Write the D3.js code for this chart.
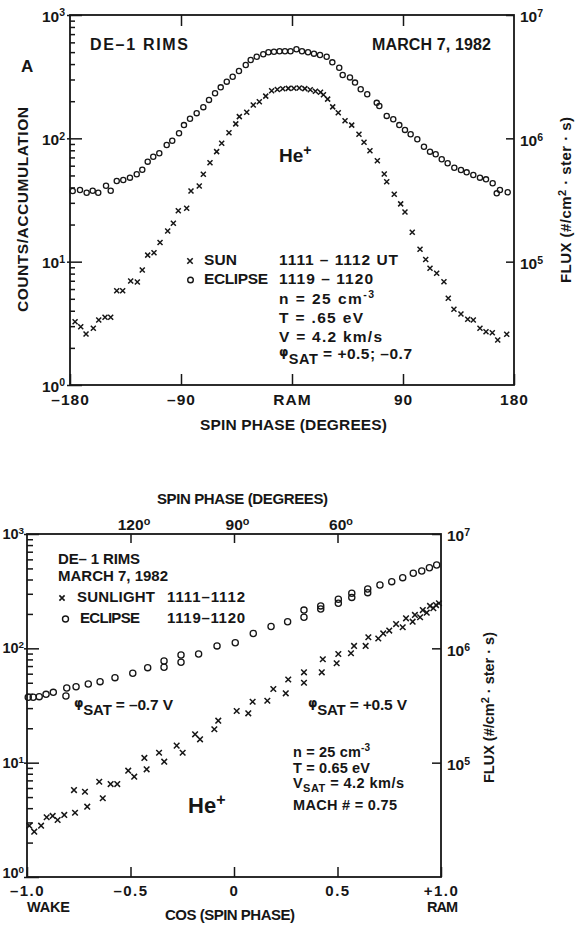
<!DOCTYPE html>
<html>
<head>
<meta charset="utf-8">
<script src="https://cdn.jsdelivr.net/npm/d3@7/dist/d3.min.js"></script>
<style>
  html, body { margin: 0; padding: 0; background: #fff; }
  svg { display: block; }
</style>
</head>
<body>
<svg id="chart" width="586" height="926"></svg>
<script>
// ---------- Panel A: He+ counts versus spin phase (degrees) ----------
const phaseTicks = [-180, -90, 0, 90, 180];
const phaseTickLabels = ["–180", "–90", "RAM", "90", "180"];

// sunlit interval 1111–1112 UT (x)
const sunPhase = [-175.9, -171.3, -167.0, -161.1, -156.7, -151.6, -147.0, -142.1, -137.3, -130.8,
  -125.4, -121.4, -117.0, -111.9, -107.0, -100.8, -96.2, -92.2, -85.4, -81.9,
  -75.2, -71.9, -66.5, -61.1, -57.0, -51.1, -45.6, -42.7, -36.7, -31.4,
  -26.5, -21.3, -16.5, -11.9, -7.5, -3.0, 1.5, 5.9, 10.4, 14.8,
  19.0, 23.1, 25.5, 28.9, 33.0, 37.5, 43.0, 48.4, 54.3, 58.4,
  63.2, 69.2, 74.8, 76.8, 82.9, 88.1, 91.6, 97.5, 103.8, 108.4,
  111.9, 117.3, 123.2, 126.7, 131.3, 137.0, 142.5, 147.0, 152.4, 157.3,
  162.4, 166.8, 174.1];
const sunCounts = [3.26, 2.97, 2.59, 2.88, 3.37, 3.54, 3.54, 5.82, 5.82, 6.97,
  6.84, 8.55, 11.3, 11.8, 14.3, 17.7, 20.5, 25.9, 27.1, 37.4,
  41.1, 51.1, 63.4, 78.0, 91.2, 111, 131, 150, 163, 186,
  198, 220, 243, 249, 252, 254, 255, 256, 253, 248,
  241, 236, 226, 208, 180, 161, 139, 128, 108, 92.9,
  79.4, 65.9, 51.4, 44.5, 35.2, 29.4, 25.3, 17.3, 12.6, 10.4,
  8.83, 8.05, 6.88, 5.05, 4.11, 3.77, 3.41, 3.37, 2.88, 2.70,
  2.65, 2.32, 2.58];

// eclipse interval 1119–1120 UT (o)
const eclipsePhase = [-177.8, -171.9, -166.5, -161.6, -157.1, -150.8, -147.0, -142.1, -136.8, -131.4,
  -125.9, -121.4, -117.0, -112.5, -107.6, -101.6, -97.1, -91.6, -87.6, -82.7,
  -77.3, -71.9, -67.3, -62.4, -57.8, -52.9, -48.1, -43.0, -37.5, -33.5,
  -28.6, -23.3, -19.1, -14.6, -10.1, -5.7, -1.2, 3.6, 8.1, 13.0,
  17.8, 22.7, 28.1, 32.7, 38.3, 41.1, 47.0, 51.1, 55.7, 61.0,
  68.7, 70.8, 76.8, 82.1, 87.0, 91.6, 96.2, 101.6, 107.0, 111.9,
  116.5, 121.4, 126.2, 131.6, 137.0, 141.6, 147.0, 152.4, 157.3, 162.7,
  166.0, 168.6, 174.9];
const eclipseCounts = [37.4, 38.1, 36.2, 37.6, 36.2, 41.3, 37.6, 45.1, 45.9, 48.0,
  51.1, 55.7, 64.7, 71.0, 75.7, 88.3, 95.7, 110, 128, 144,
  160, 179, 205, 232, 259, 288, 316, 352, 393, 432,
  459, 480, 499, 504, 508, 508, 508, 527, 508, 499,
  486, 474, 459, 413, 374, 326, 312, 283, 250, 228,
  194, 183, 152, 143, 128, 117, 108, 98.2, 85.5, 78.0,
  74.2, 67.6, 62.8, 57.8, 55.4, 53.0, 50.4, 48.0, 46.5, 43.2,
  35.8, 38.1, 36.5];

// ---------- Lower panel: the same counts versus cos(spin phase) ----------
const cosTicks = [-1, -0.5, 0, 0.5, 1];
const cosTickLabels = ["–1.0", "–0.5", "0", "0.5", "+1.0"];
const degreeTicks = [120, 90, 60];

const sunCos = [-0.989, -0.965, -0.932, -0.905, -0.876, -0.852, -0.820, -0.768, -0.773, -0.720,
  -0.709, -0.651, -0.634, -0.596, -0.564, -0.511, -0.482, -0.433, -0.422, -0.362,
  -0.337, -0.277, -0.248, -0.188, -0.164, -0.095, -0.076, 0.013, 0.069, 0.090,
  0.161, 0.190, 0.250, 0.262, 0.338, 0.338, 0.424, 0.429, 0.496, 0.504,
  0.565, 0.580, 0.636, 0.649, 0.697, 0.721, 0.750, 0.783, 0.815, 0.831,
  0.863, 0.874, 0.899, 0.912, 0.931, 0.947, 0.963, 0.976, 0.990];
const sunCosCounts = [2.81, 2.49, 2.81, 3.33, 3.42, 3.15, 3.49, 3.65, 5.76, 5.57,
  4.12, 6.81, 4.88, 6.50, 6.50, 8.51, 7.54, 11.0, 8.74, 12.2,
  10.2, 14.1, 12.2, 17.7, 16.0, 19.6, 23.3, 28.3, 27.0, 34.1,
  34.8, 44.1, 40.4, 53.4, 50.0, 61.7, 61.7, 80.2, 74.0, 89.2,
  90.5, 105, 105, 125, 122, 135, 143, 163, 153, 183,
  171, 196, 187, 216, 205, 235, 224, 239, 248];

const eclipseCos = [-0.994, -0.970, -0.941, -0.908, -0.873, -0.812, -0.808, -0.763, -0.704, -0.647,
  -0.575, -0.489, -0.417, -0.338, -0.338, -0.256, -0.256, -0.171, -0.082, 0.006,
  0.093, 0.179, 0.259, 0.338, 0.338, 0.419, 0.419, 0.504, 0.504, 0.569,
  0.569, 0.646, 0.646, 0.705, 0.762, 0.815, 0.866, 0.907, 0.944, 0.979];
const eclipseCosCounts = [37.3, 37.3, 37.8, 39.6, 41.2, 38.3, 45.0, 46.2, 48.7, 51.1,
  55.4, 60.5, 67.8, 77.5, 68.3, 87.4, 75.5, 89.2, 105, 112,
  135, 155, 171, 216, 187, 235, 221, 269, 248, 303,
  279, 330, 307, 358, 383, 415, 453, 475, 507, 536];

// shared log axes: counts (left) and flux (right)
const countDecades = [1, 10, 100, 1000];
const fluxDecades = [1e5, 1e6, 1e7];

// ---------- drawing ----------
const INK = "#161616";
const FONT = '"Liberation Sans", Arial, Helvetica, sans-serif';
const PHI = "φ";
const svg = d3.select("#chart");
svg.append("rect").attr("width", 586).attr("height", 926).attr("fill", "#fff");

const minorTicks = countDecades.slice(0, -1).flatMap(d => d3.range(2, 10).map(m => d * m));

function txt(parent, x, y, parts, o = {}) {
  const t = parent.append("text")
    .attr("x", x).attr("y", y)
    .attr("text-anchor", o.anchor || "start")
    .attr("fill", INK)
    .style("font-family", FONT)
    .style("font-weight", o.weight || "bold")
    .style("font-size", (o.size || 15.5) + "px");
  if (o.rotate) t.attr("transform", `rotate(${o.rotate},${x},${y})`);
  (typeof parts === "string" ? [[parts]] : parts).forEach(([s, p = {}]) => {
    const ts = t.append("tspan").text(s).attr("fill", INK);
    if (p.dy != null) ts.attr("dy", p.dy);
    if (p.size) ts.style("font-size", p.size + "px");
    if (p.weight) ts.style("font-weight", p.weight);
    if (p.family) ts.style("font-family", p.family);
  });
  if (o.len) t.attr("textLength", o.len).attr("lengthAdjust", "spacing");
  return t;
}

// phi with subscript SAT, followed by the rest of the line
const phiSat = (rest, satSize) => [
  [PHI, { dy: -3, size: 12, family: '"DejaVu Sans", sans-serif' }],
  ["SAT", { dy: 8, size: satSize }],
  [rest, { dy: -5 }]
];

function styleAxis(g, size, spacing = 0) {
  g.attr("font-family", null).attr("font-size", null);
  g.select(".domain").remove();
  g.selectAll(".tick line").attr("stroke", INK).attr("stroke-width", 1.5);
  g.selectAll(".tick text")
    .attr("fill", INK)
    .style("font-family", FONT)
    .style("font-weight", "bold")
    .style("font-size", size + "px")
    .style("letter-spacing", spacing + "px");
}

// decade labels written as 10 with a raised exponent
function powerLabels(g, dy) {
  g.selectAll(".tick text").attr("dy", dy).each(function (d) {
    const t = d3.select(this).text(null);
    t.append("tspan").text("10");
    t.append("tspan").attr("dy", "-0.5em").style("font-size", "0.68em")
      .text(Math.round(Math.log10(d)));
  });
}

const xPath = r => `M${-r},${-r}L${r},${r}M${-r},${r}L${r},${-r}`;

function drawMarks(g, xs, ys, xScale, yScale, kind, size) {
  const data = d3.zip(xs, ys);
  if (kind === "x") {
    g.append("g").selectAll("path").data(data).join("path")
      .attr("transform", d => `translate(${xScale(d[0])},${yScale(d[1])})`)
      .attr("d", xPath(size))
      .attr("fill", "none").attr("stroke", INK).attr("stroke-width", 1.5);
  } else {
    g.append("g").selectAll("circle").data(data).join("circle")
      .attr("cx", d => xScale(d[0])).attr("cy", d => yScale(d[1]))
      .attr("r", size)
      .attr("fill", "none").attr("stroke", INK).attr("stroke-width", 1.3);
  }
}

function legendMark(g, x, y, kind, size) {
  if (kind === "x") {
    g.append("path").attr("transform", `translate(${x},${y})`).attr("d", xPath(size))
      .attr("fill", "none").attr("stroke", INK).attr("stroke-width", 1.6);
  } else {
    g.append("circle").attr("cx", x).attr("cy", y).attr("r", size)
      .attr("fill", "none").attr("stroke", INK).attr("stroke-width", 1.4);
  }
}

function frame(g, xS, yS) {
  const [x0, x1] = xS.range(), [y0, y1] = yS.range();
  g.append("rect")
    .attr("x", x0).attr("y", y1).attr("width", x1 - x0).attr("height", y0 - y1)
    .attr("fill", "none").attr("stroke", INK).attr("stroke-width", 1.8);
}

// ===== Panel A =====
{
  const g = svg.append("g");
  const x = d3.scaleLinear().domain([phaseTicks[0], phaseTicks[phaseTicks.length - 1]]).range([70, 514]);
  const y = d3.scaleLog().domain([countDecades[0], countDecades[3]]).range([385, 15]);
  const yR = d3.scaleLog().domain([1e4, 1e7]).range([385, 15]);

  frame(g, x, y);

  g.append("g").attr("transform", "translate(70,0)")
    .call(d3.axisLeft(y).tickValues(minorTicks).tickSize(-5).tickFormat(""))
    .call(a => styleAxis(a, 15));
  g.append("g").attr("transform", "translate(70,0)")
    .call(d3.axisLeft(y).tickValues(countDecades).tickSize(-12).tickPadding(5).tickFormat(""))
    .call(a => styleAxis(a, 15.5))
    .call(a => a.selectAll(".tick line").attr("x1", -3))
    .call(a => powerLabels(a, "0.4em"));

  g.append("g").attr("transform", "translate(514,0)")
    .call(d3.axisRight(yR).tickValues(fluxDecades).tickSize(-8).tickPadding(6).tickFormat(""))
    .call(a => styleAxis(a, 15.5))
    .call(a => powerLabels(a, "0.45em"));

  g.append("g").attr("transform", "translate(0,385)")
    .call(d3.axisBottom(x).tickValues(phaseTicks).tickSize(-11).tickPadding(9)
      .tickFormat((d, i) => phaseTickLabels[i]))
    .call(a => styleAxis(a, 15.5, 1));
  g.append("g").attr("transform", "translate(0,15)")
    .call(d3.axisTop(x).tickValues(phaseTicks.slice(1, -1)).tickSize(-11).tickFormat(""))
    .call(a => styleAxis(a, 15));

  drawMarks(g, eclipsePhase, eclipseCounts, x, y, "o", 2.6);
  drawMarks(g, sunPhase, sunCounts, x, y, "x", 2.5);

  txt(g, 21, 72, "A", { size: 17 });
  txt(g, 90, 50, "DE–1 RIMS", { len: 98, size: 16 });
  txt(g, 372, 50, "MARCH 7, 1982", { len: 119, size: 16 });
  txt(g, 279, 162, [["He"], ["+", { dy: -7, size: 14 }]], { size: 19 });

  legendMark(g, 190, 261, "x", 2.7);
  legendMark(g, 190.5, 280, "o", 2.8);
  txt(g, 204, 265, "SUN", { len: 33 });
  txt(g, 204, 284, "ECLIPSE", { len: 64 });
  txt(g, 279, 265, "1111 – 1112 UT", { len: 119 });
  txt(g, 279, 284, "1119 – 1120", { len: 94 });
  txt(g, 279, 304, [["n = 25 cm"], ["-3", { dy: -6, size: 10.5 }]], { len: 95 });
  txt(g, 279, 323, "T = .65 eV", { len: 84 });
  txt(g, 279, 342, "V = 4.2 km/s", { len: 103 });
  txt(g, 279, 359, phiSat(" = +0.5; –0.7", 14.5), { len: 133 });

  txt(g, 200, 430, "SPIN PHASE (DEGREES)", { len: 187 });
  txt(g, 28, 312, "COUNTS/ACCUMULATION", { rotate: -90, len: 205 });
  txt(g, 571, 283, [["FLUX (#/cm"], ["2", { dy: -5, size: 11 }], [" · ster · s)", { dy: 5 }]],
    { rotate: -90, len: 166, size: 15 });
}

// ===== Lower panel =====
{
  const g = svg.append("g");
  const x = d3.scaleLinear().domain([cosTicks[0], cosTicks[cosTicks.length - 1]]).range([27, 441]);
  const y = d3.scaleLog().domain([countDecades[0], countDecades[3]]).range([877, 534]);
  const yR = d3.scaleLog().domain([1e4, 1e7]).range([877, 534]);

  frame(g, x, y);

  g.append("g").attr("transform", "translate(27,0)")
    .call(d3.axisLeft(y).tickValues(minorTicks).tickSize(-6).tickFormat(""))
    .call(a => styleAxis(a, 15));
  g.append("g").attr("transform", "translate(27,0)")
    .call(d3.axisLeft(y).tickValues(countDecades).tickSize(-12).tickPadding(3).tickFormat(""))
    .call(a => styleAxis(a, 14.5))
    .call(a => a.selectAll(".tick line").attr("x1", -3))
    .call(a => powerLabels(a, "0.3em"))
    // the lowest decade label sits just above the "–1.0" tick label
    .call(a => a.selectAll(".tick text").filter(d => d === countDecades[0]).attr("dy", "0.05em"));

  g.append("g").attr("transform", "translate(441,0)")
    .call(d3.axisRight(yR).tickValues(fluxDecades).tickSize(-9).tickPadding(6).tickFormat(""))
    .call(a => styleAxis(a, 15.5))
    .call(a => powerLabels(a, "0.45em"));

  g.append("g").attr("transform", "translate(0,877)")
    .call(d3.axisBottom(x).tickValues(cosTicks).tickSize(-10).tickPadding(8)
      .tickFormat((d, i) => cosTickLabels[i]))
    .call(a => styleAxis(a, 15, 1.5));

  const degAxis = g.append("g").attr("transform", "translate(0,534)")
    .call(d3.axisTop(x).tickValues(degreeTicks.map(d => Math.cos(d * Math.PI / 180)))
      .tickSize(-9).tickPadding(4).tickFormat(""))
    .call(a => styleAxis(a, 15.5));
  degAxis.selectAll(".tick text").attr("dx", 3).each(function (d, i) {
    const t = d3.select(this).text(null);
    t.append("tspan").text(degreeTicks[i]);
    t.append("tspan").attr("dy", "-0.45em").style("font-size", "0.7em").text("o");
  });

  drawMarks(g, eclipseCos, eclipseCosCounts, x, y, "o", 3.1);
  drawMarks(g, sunCos, sunCosCounts, x, y, "x", 2.8);

  txt(g, 157, 504, "SPIN PHASE (DEGREES)", { len: 171, size: 15 });

  txt(g, 58, 564, "DE– 1 RIMS", { len: 82, size: 15 });
  txt(g, 58, 581, "MARCH 7, 1982", { len: 110, size: 15 });
  legendMark(g, 62, 598, "x", 2.6);
  legendMark(g, 65.5, 619, "o", 3);
  txt(g, 77, 602, "SUNLIGHT", { len: 78, size: 15 });
  txt(g, 167, 602, "1111–1112", { len: 78, size: 15 });
  txt(g, 80, 623, "ECLIPSE", { len: 60, size: 15 });
  txt(g, 167, 623, "1119–1120", { len: 78, size: 15 });

  txt(g, 74, 710, phiSat(" = –0.7 V", 15), { len: 99, size: 15.5 });
  txt(g, 308, 710, phiSat(" = +0.5 V", 15), { len: 99, size: 15.5 });

  txt(g, 293, 757, [["n = 25 cm"], ["-3", { dy: -6, size: 10 }]], { len: 77, size: 14.5 });
  txt(g, 293, 773, "T = 0.65 eV", { len: 77, size: 14.5 });
  txt(g, 293, 788, [["V"], ["SAT", { dy: 4, size: 11 }], [" = 4.2 km/s", { dy: -4 }]], { len: 111, size: 14.5 });
  txt(g, 293, 810, "MACH # = 0.75", { len: 104, size: 14.5 });

  txt(g, 188, 813, [["He"], ["+", { dy: -8, size: 16 }]], { size: 22 });

  txt(g, 27, 912, "WAKE", { len: 43, size: 14.5 });
  txt(g, 427, 912, "RAM", { len: 31, size: 14.5 });
  txt(g, 165, 920, "COS (SPIN PHASE)", { len: 130, size: 15 });
  txt(g, 494, 783, [["FLUX (#/cm"], ["2", { dy: -5, size: 11 }], [" · ster · s)", { dy: 5 }]],
    { rotate: -90, len: 151, size: 14.5 });
}
</script>
</body>
</html>
